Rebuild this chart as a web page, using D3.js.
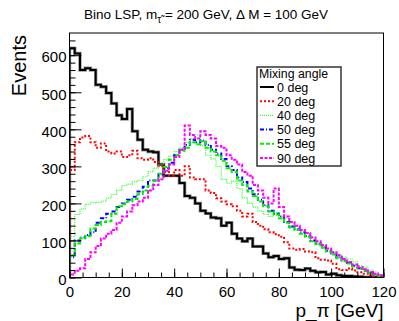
<!DOCTYPE html>
<html>
<head>
<meta charset="utf-8">
<script src="https://cdn.jsdelivr.net/npm/d3@7"></script>
<style>
  body { margin: 0; background: #fff; }
  svg { display: block; font-family: "Liberation Sans", Arial, sans-serif; }
  .axis path.domain { display: none; }
  .axis line { stroke: #000; stroke-width: 1; }
  .axis text { fill: #000; }
  .hist { fill: none; }
</style>
</head>
<body>
<div id="chart"></div>
<script>
// pion momentum spectra, 2 GeV bins from 0 to 120
var binWidth = 2;
var binStarts = d3.range(0, 120, binWidth);

var deg0 = [619, 605, 560, 565, 560, 520, 515, 498, 470, 438,
  428, 455, 395, 372, 345, 340, 338, 305, 275, 275,
  275, 255, 220, 215, 200, 180, 173, 162, 160, 140,
  148, 118, 105, 98, 105, 84, 84, 65, 55, 58,
  50, 52, 27, 21, 20, 24, 18, 14, 15, 8,
  10, 6, 4, 4, 3, 2, 1, 1, 1, 0];
var deg20 = [290, 365, 378, 382, 365, 350, 362, 340, 335, 340,
  325, 330, 342, 322, 318, 322, 312, 300, 285, 275,
  290, 275, 300, 270, 265, 265, 235, 228, 214, 205,
  198, 192, 180, 165, 172, 150, 140, 130, 122, 117,
  110, 95, 78, 75, 77, 70, 68, 52, 48, 46,
  37, 22, 20, 24, 19, 14, 10, 6, 4, 2];
var deg40 = [110, 170, 185, 198, 202, 203, 206, 214, 224, 235,
  248, 252, 258, 262, 272, 285, 295, 305, 318, 328,
  340, 350, 365, 375, 385, 355, 330, 320, 300, 265,
  255, 260, 240, 215, 200, 190, 180, 170, 165, 175,
  165, 160, 135, 130, 128, 120, 110, 90, 85, 78,
  70, 62, 55, 50, 42, 32, 28, 20, 15, 8];
var deg50 = [55, 100, 108, 115, 122, 148, 160, 172, 178, 190,
  200, 210, 218, 232, 245, 262, 262, 278, 295, 310,
  330, 345, 358, 372, 365, 370, 358, 345, 335, 320,
  300, 290, 270, 258, 240, 225, 210, 195, 180, 172,
  165, 150, 138, 130, 122, 112, 100, 92, 82, 72,
  65, 55, 46, 40, 32, 25, 18, 14, 9, 5];
var deg55 = [60, 92, 105, 112, 132, 142, 150, 152, 172, 192,
  198, 205, 212, 225, 235, 248, 262, 280, 298, 318,
  330, 342, 350, 365, 360, 368, 350, 340, 330, 315,
  295, 285, 262, 250, 232, 220, 205, 192, 178, 170,
  160, 148, 135, 128, 118, 110, 98, 90, 80, 70,
  62, 52, 44, 38, 30, 24, 18, 12, 8, 4];
var deg90 = [8, 18, 25, 50, 68, 85, 105, 118, 128, 148,
  165, 178, 195, 205, 215, 235, 250, 265, 288, 305,
  325, 345, 410, 385, 375, 395, 385, 375, 355, 350,
  330, 318, 305, 285, 275, 250, 235, 215, 200, 240,
  190, 165, 150, 140, 128, 120, 108, 98, 88, 78,
  68, 60, 50, 42, 35, 28, 22, 15, 10, 6];

var seriesNames = ["0 deg", "20 deg", "40 deg", "50 deg", "55 deg", "90 deg"];
var seriesValues = [deg0, deg20, deg40, deg50, deg55, deg90];
var seriesColors = ["#000000", "#ff0000", "#33ff33", "#0000ff", "#00ee00", "#ff00ff"];
var seriesDash = [null, "2,2", "1,1", "4,2,1,2", "4,2", "3,1.5"];
var seriesWidth = [2, 2, 1.2, 2, 2, 2];

var xTicks = [0, 20, 40, 60, 80, 100, 120];
var xMinorTicks = d3.range(0, 121, 5);
var yTicks = [0, 100, 200, 300, 400, 500, 600];
var yMinorTicks = d3.range(0, 660, 20);

var width = 399;
var height = 321;
var margins = { top: 33, right: 15.5, bottom: 43.5, left: 69.5 };
var chartWidth = width - margins.left - margins.right;
var chartHeight = height - margins.top - margins.bottom;

var svg = d3.select("#chart")
  .append("svg")
  .attr("width", width)
  .attr("height", height);

svg.append("rect")
  .attr("width", width)
  .attr("height", height)
  .attr("fill", "#fff");

var chartElement = svg.append("g")
  .attr("transform", `translate(${margins.left},${margins.top})`);

var xScale = d3.scaleLinear().domain([0, 120]).range([0, chartWidth]);
var yScale = d3.scaleLinear().domain([0, 660]).range([chartHeight, 0]);

chartElement.append("clipPath")
  .attr("id", "frame-clip")
  .append("rect")
  .attr("width", chartWidth)
  .attr("height", chartHeight);

// histograms
var line = d3.line()
  .x(d => xScale(d[0]))
  .y(d => yScale(d[1]))
  .curve(d3.curveStepAfter);

var histPoints = function(values) {
  var pts = [[binStarts[0], 0]];
  values.forEach((v, i) => pts.push([binStarts[i], v]));
  pts.push([binStarts[binStarts.length - 1] + binWidth, values[values.length - 1]]);
  pts.push([binStarts[binStarts.length - 1] + binWidth, 0]);
  return pts;
};

var histGroup = chartElement.append("g")
  .attr("clip-path", "url(#frame-clip)");

// soft grey edge under the solid black line, like the ROOT antialiasing
histGroup.append("path")
  .attr("class", "hist")
  .attr("stroke", "#9a9a9a")
  .attr("stroke-width", 3.4)
  .attr("d", line(histPoints(deg0)));

histGroup.selectAll("path.series")
  .data(seriesValues)
  .enter()
  .append("path")
  .attr("class", "hist series")
  .attr("stroke", (d, i) => seriesColors[i])
  .attr("stroke-width", (d, i) => seriesWidth[i])
  .attr("stroke-dasharray", (d, i) => seriesDash[i])
  .attr("d", d => line(histPoints(d)));

// axes, ROOT style: ticks inside the frame
chartElement.append("g")
  .attr("class", "x axis")
  .attr("transform", `translate(0,${chartHeight})`)
  .call(d3.axisBottom(xScale).tickValues(xMinorTicks).tickSize(-5).tickFormat(""));

chartElement.append("g")
  .attr("class", "x axis")
  .attr("transform", `translate(0,${chartHeight})`)
  .call(d3.axisBottom(xScale).tickValues(xTicks).tickSize(-9).tickPadding(9))
  .selectAll("text")
  .style("font-size", "15px");

chartElement.append("g")
  .attr("class", "y axis")
  .call(d3.axisLeft(yScale).tickValues(yMinorTicks).tickSize(-6).tickFormat(""));

chartElement.append("g")
  .attr("class", "y axis")
  .call(d3.axisLeft(yScale).tickValues(yTicks).tickSize(-12).tickPadding(3))
  .selectAll("text")
  .attr("dy", "0.45em")
  .style("font-size", "15px");

chartElement.append("rect")
  .attr("width", chartWidth)
  .attr("height", chartHeight)
  .attr("fill", "none")
  .attr("stroke", "#000")
  .attr("stroke-width", 1);

// titles
var title = svg.append("text")
  .attr("x", 206)
  .attr("y", 19)
  .attr("text-anchor", "middle")
  .style("font-size", "13.5px");
title.append("tspan").text("Bino LSP, m");
title.append("tspan").attr("dy", 3.5).style("font-size", "10px").text("τ̃");
title.append("tspan").attr("dy", -3.5).text(" = 200 GeV, Δ M = 100 GeV");

svg.append("text")
  .attr("transform", `translate(26,${margins.top + 2}) rotate(-90)`)
  .attr("text-anchor", "end")
  .style("font-size", "20px")
  .text("Events");

svg.append("text")
  .attr("x", margins.left + chartWidth)
  .attr("y", 317)
  .attr("text-anchor", "end")
  .style("font-size", "19px")
  .text("p_π [GeV]");

// legend
var legend = svg.append("g").attr("transform", "translate(257,67)");

legend.append("rect")
  .attr("width", 84)
  .attr("height", 99)
  .attr("fill", "#fff")
  .attr("stroke", "#333")
  .attr("stroke-width", 1.5);

legend.append("text")
  .attr("x", 2)
  .attr("y", 10.5)
  .style("font-size", "12.3px")
  .text("Mixing angle");

var keys = legend.selectAll("g.key")
  .data(seriesNames)
  .enter()
  .append("g")
  .attr("class", "key")
  .attr("transform", (d, i) => `translate(0,${20 + i * 14.2})`);

keys.append("line")
  .attr("x1", 3)
  .attr("x2", 17)
  .attr("stroke", (d, i) => seriesColors[i])
  .attr("stroke-width", (d, i) => seriesWidth[i])
  .attr("stroke-dasharray", (d, i) => seriesDash[i]);

keys.append("text")
  .attr("x", 20)
  .attr("dy", "0.36em")
  .style("font-size", "12.5px")
  .text(d => d);
</script>
</body>
</html>
